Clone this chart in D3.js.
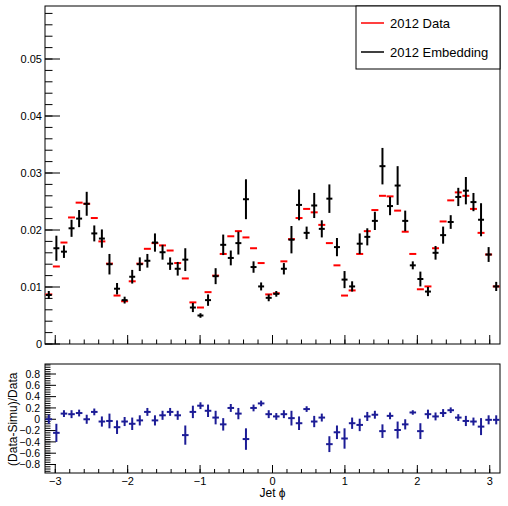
<!DOCTYPE html>
<html><head><meta charset="utf-8">
<script src="https://cdn.jsdelivr.net/npm/d3@7"></script>
<style>body{margin:0;background:#fff} text{font-family:"Liberation Sans",Arial,Helvetica,sans-serif;fill:#000}</style>
</head><body><svg id="c" width="508" height="506"></svg>
<script>
const nBins = 60;
const dataVals = [0.0087,0.0136,0.0178,0.0222,0.0248,0.0246,0.0221,0.0180,0.0141,0.0085,
  0.0075,0.0110,0.0141,0.0167,0.0177,0.0173,0.0164,0.0142,0.0115,0.0073,
  0.0064,0.0091,0.0120,0.0158,0.0189,0.0198,0.0187,0.0168,0.0142,0.0087,
  0.0089,0.0145,0.0184,0.0221,0.0237,0.0231,0.0209,0.0177,0.0138,0.0085,
  0.0094,0.0158,0.0198,0.0235,0.0260,0.0259,0.0234,0.0197,0.0158,0.0096,
  0.0101,0.0168,0.0215,0.0252,0.0266,0.0260,0.0237,0.0195,0.0157,0.0101];
const embVals = [0.0086,0.0168,0.0162,0.0203,0.0220,0.0246,0.0194,0.0185,0.0140,0.0097,
  0.0077,0.0118,0.0140,0.0146,0.0178,0.0161,0.0141,0.0132,0.0148,0.0064,
  0.0050,0.0077,0.0119,0.0174,0.0151,0.0177,0.0254,0.0135,0.0101,0.0081,
  0.0088,0.0132,0.0183,0.0244,0.0195,0.0243,0.0202,0.0255,0.0170,0.0113,
  0.0101,0.0176,0.0188,0.0216,0.0312,0.0242,0.0278,0.0216,0.0138,0.0114,
  0.0092,0.0160,0.0191,0.0214,0.0258,0.0269,0.0249,0.0218,0.0157,0.0101];
const embErrs = [0.0007,0.0022,0.0011,0.0015,0.0015,0.0021,0.0014,0.0016,0.0018,0.0010,
  0.0006,0.0012,0.0012,0.0012,0.0016,0.0013,0.0011,0.0012,0.0020,0.0008,
  0.0004,0.0010,0.0014,0.0018,0.0013,0.0020,0.0035,0.0010,0.0007,0.0006,
  0.0005,0.0010,0.0024,0.0027,0.0011,0.0022,0.0015,0.0025,0.0016,0.0015,
  0.0009,0.0018,0.0015,0.0016,0.0032,0.0016,0.0034,0.0018,0.0007,0.0013,
  0.0008,0.0012,0.0015,0.0012,0.0016,0.0024,0.0016,0.0029,0.0013,0.0008];
const ratioVals = [0.00,-0.24,0.10,0.09,0.11,0.00,0.13,-0.04,-0.03,-0.14,
  -0.04,-0.08,-0.02,0.13,-0.02,0.07,0.13,0.07,-0.28,0.13,
  0.24,0.15,0.03,-0.09,0.20,0.10,-0.35,0.20,0.28,0.09,
  0.05,0.09,0.02,-0.07,0.18,-0.04,0.03,-0.44,-0.23,-0.34,
  -0.07,-0.10,0.05,0.08,-0.21,0.06,-0.19,-0.09,0.12,-0.21,
  0.09,0.05,0.11,0.16,0.03,-0.03,-0.04,-0.13,-0.01,-0.01];
const ratioErrs = [0.08,0.16,0.06,0.07,0.06,0.08,0.06,0.09,0.13,0.12,
  0.08,0.11,0.09,0.07,0.09,0.08,0.07,0.08,0.17,0.11,
  0.06,0.11,0.12,0.11,0.07,0.10,0.19,0.06,0.05,0.07,
  0.06,0.07,0.13,0.12,0.05,0.10,0.07,0.14,0.12,0.18,
  0.10,0.11,0.08,0.07,0.12,0.06,0.15,0.09,0.04,0.14,
  0.08,0.07,0.07,0.05,0.06,0.09,0.07,0.15,0.08,0.08];
const topYTicks = [0,0.01,0.02,0.03,0.04,0.05];
const topYLabels = ["0","0.01","0.02","0.03","0.04","0.05"];
const ratioYTicks = [-0.8,-0.6,-0.4,-0.2,0,0.2,0.4,0.6,0.8];
const ratioYLabels = ["\u22120.8","\u22120.6","\u22120.4","\u22120.2","0","0.2","0.4","0.6","0.8"];
const xTicks = [-3,-2,-1,0,1,2,3];
const xLabels = ["\u22123","\u22122","\u22121","0","1","2","3"];
const legendLabels = ["2012 Data","2012 Embedding"];

const svg = d3.select("#c");
const PI = Math.PI;
const L = 45, R = 500;
const x = d3.scaleLinear().domain([-PI, PI]).range([L, R]);
const yTop = d3.scaleLinear().domain([0, 0.0593]).range([344, 6]);
const yRat = d3.scaleLinear().domain([-0.95, 0.977]).range([473, 364]);
const binEdge = d3.scaleLinear().domain([0, nBins]).range([-PI, PI]);
const bw = x(binEdge(1)) - x(binEdge(0));
const cx = i => x(binEdge(i + 0.5));

// frames
function frame(y0, y1) {
  svg.append("rect").attr("x", L).attr("y", y0).attr("width", R - L).attr("height", y1 - y0)
    .attr("fill", "none").attr("stroke", "#000").attr("stroke-width", 1);
}
frame(yTop.range()[1], yTop.range()[0]);
frame(yRat.range()[1], yRat.range()[0]);

function line(g, x1, y1, x2, y2, col, w) {
  g.append("line").attr("x1", x1).attr("y1", y1).attr("x2", x2).attr("y2", y2)
    .attr("stroke", col).attr("stroke-width", w);
}
const axG = svg.append("g");
// top y axis ticks
const topMinor = d3.range(0, 0.0593, 0.002);
topMinor.forEach(v => line(axG, L, yTop(v), L + 7.5, yTop(v), "#000", 1));
topYTicks.forEach((v, i) => {
  line(axG, L, yTop(v), L + 15, yTop(v), "#000", 1);
  axG.append("text").attr("x", 42).attr("y", yTop(v)).attr("dy", "0.36em")
    .attr("text-anchor", "end").attr("font-size", 11).text(topYLabels[i]);
});
// top x ticks
const xMinor = d3.range(-3.2, 3.2, 0.2).filter(v => v >= -PI && v <= PI);
xMinor.forEach(v => line(axG, x(v), 344, x(v), 339.5, "#000", 1));
xTicks.forEach(v => line(axG, x(v), 344, x(v), 335, "#000", 1));
// ratio y ticks
const ratMinor = d3.range(-0.92, 0.97, 0.04);
ratMinor.forEach(v => line(axG, L, yRat(v), L + 5.5, yRat(v), "#000", 1));
ratioYTicks.forEach((v, i) => {
  line(axG, L, yRat(v), L + 11, yRat(v), "#000", 1);
  axG.append("text").attr("x", 40).attr("y", yRat(v)).attr("dy", "0.36em")
    .attr("text-anchor", "end").attr("font-size", 10.5).text(ratioYLabels[i]);
});
// ratio x ticks
xMinor.forEach(v => line(axG, x(v), 473, x(v), 469, "#000", 1));
xTicks.forEach((v, i) => {
  line(axG, x(v), 473, x(v), 465, "#000", 1);
  axG.append("text").attr("x", x(v)).attr("y", 485).attr("text-anchor", "middle")
    .attr("font-size", 11).text(xLabels[i]);
});
// titles
svg.append("text").attr("x", x(0)).attr("y", 497).attr("text-anchor", "middle")
  .attr("font-size", 12).text("Jet \u03d5");
svg.append("text").attr("transform", `translate(17,${yRat(0)}) rotate(-90)`)
  .attr("text-anchor", "middle").attr("font-size", 12).text("(Data-Simu)/Data");

// data (red)
const gD = svg.append("g");
dataVals.forEach((v, i) => line(gD, cx(i) - bw / 2 + 0.3, yTop(v), cx(i) + bw / 2 - 0.3, yTop(v), "#ff0000", 2));
// embedding (black)
const gE = svg.append("g");
embVals.forEach((v, i) => {
  line(gE, cx(i) - bw / 2 + 0.8, yTop(v), cx(i) + bw / 2 - 0.8, yTop(v), "#000", 2);
  line(gE, cx(i), yTop(v - embErrs[i]), cx(i), yTop(v + embErrs[i]), "#000", 2);
});
// ratio (blue)
const gR = svg.append("g");
ratioVals.forEach((v, i) => {
  line(gR, cx(i) - bw / 2 + 0.5, yRat(v), cx(i) + bw / 2 - 0.5, yRat(v), "#1c1c96", 2);
  line(gR, cx(i), yRat(v - ratioErrs[i]), cx(i), yRat(v + ratioErrs[i]), "#1c1c96", 2);
});

// legend
const lg = svg.append("g");
lg.append("rect").attr("x", 356).attr("y", 6).attr("width", 144).attr("height", 63)
  .attr("fill", "#fff").attr("stroke", "#000").attr("stroke-width", 1);
const legCols = ["#ff0000", "#000"];
const legY = [23, 52];
legendLabels.forEach((t, i) => {
  line(lg, 361, legY[i], 384, legY[i], legCols[i], 1.5);
  lg.append("text").attr("x", 390).attr("y", legY[i]).attr("dy", "0.36em")
    .attr("font-size", 13).text(t);
});
</script></body></html>
